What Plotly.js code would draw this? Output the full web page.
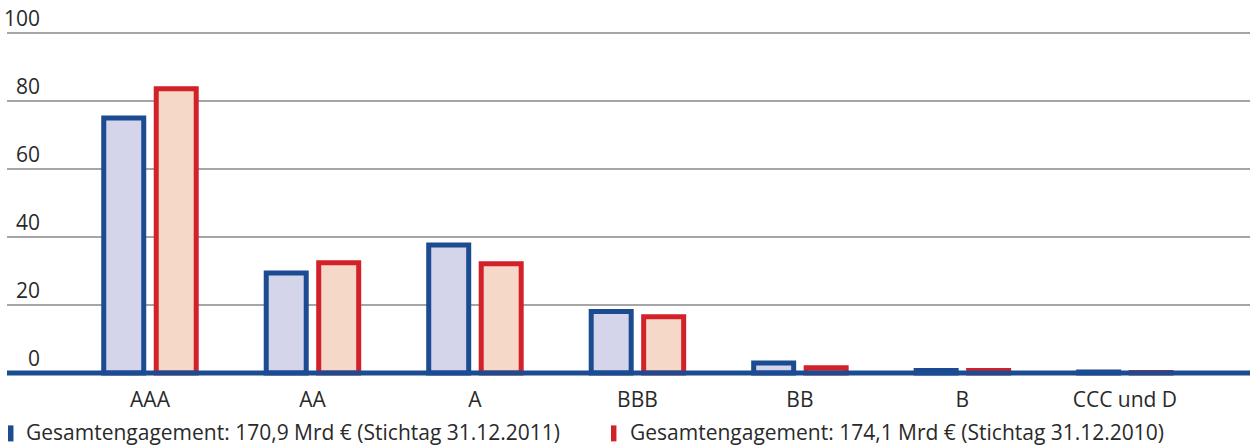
<!DOCTYPE html>
<html>
<head>
<meta charset="utf-8">
<script src="https://cdn.plot.ly/plotly-3.0.1.min.js"></script>
<style>html,body{margin:0;padding:0;background:#fff;}#chart{width:1251px;height:446px;}</style>
</head>
<body>
<div id="chart"></div>
<script>
const categories = ["AAA", "AA", "A", "BBB", "BB", "B", "CCC und D"];
const values2011 = [75.0, 29.4, 37.6, 18.1, 2.9, 0.7, 0.3];
const values2010 = [83.6, 32.4, 32.1, 16.5, 1.5, 0.7, 0.15];
const seriesNames = [
  "Gesamtengagement: 170,9 Mrd € (Stichtag 31.12.2011)",
  "Gesamtengagement: 174,1 Mrd € (Stichtag 31.12.2010)"
];
const yTicks = [0, 20, 40, 60, 80, 100];

const BLUE = "#1b4b91", BLUE_FILL = "#d4d5ea";
const RED = "#d3212a", RED_FILL = "#f5d8c8";
const FONT = "Open Sans, sans-serif";
const TXT = "#2a2a2a";
const FS = 21;

const traces = [
  {type: "bar", x: categories, y: values2011, name: seriesNames[0],
   marker: {color: BLUE_FILL, line: {color: BLUE, width: 5}}, hoverinfo: "none"},
  {type: "bar", x: categories, y: values2010, name: seriesNames[1],
   marker: {color: RED_FILL, line: {color: RED, width: 5}}, hoverinfo: "none"}
];

const annotations = yTicks.map(v => ({
  xref: "paper", yref: "y", x: 0.0282, y: v, xanchor: "right", yanchor: "bottom",
  text: String(v), showarrow: false, yshift: -1,
  font: {family: FONT, size: FS, color: TXT}
}));
const legendX = [0.0138, 0.4996];
seriesNames.forEach((n, i) => {
  annotations.push({
    xref: "paper", yref: "paper", x: legendX[i], y: -0.153, xanchor: "left", yanchor: "middle",
    text: n, showarrow: false, font: {family: FONT, size: FS, color: TXT}
  });
});

const shapes = [
  {type: "line", xref: "paper", yref: "y", x0: 0, x1: 1, y0: 0, y1: 0,
   line: {color: BLUE, width: 5}, layer: "above"},
  {type: "rect", xref: "paper", yref: "paper", x0: 0.0008, x1: 0.0052, y0: -0.1335, y1: -0.1786,
   fillcolor: BLUE, line: {width: 0}},
  {type: "rect", xref: "paper", yref: "paper", x0: 0.4859, x1: 0.4903, y0: -0.1335, y1: -0.1786,
   fillcolor: RED, line: {width: 0}}
];

const layout = {
  width: 1251, height: 446,
  margin: {l: 7, r: 1, t: 22.5, b: 68.4},
  paper_bgcolor: "#fff", plot_bgcolor: "#fff",
  barmode: "group", bargap: 0.354, bargroupgap: 0.238,
  showlegend: false,
  font: {family: FONT, color: TXT},
  xaxis: {type: "category", range: [-0.88, 6.77], showgrid: false, zeroline: false,
    showline: false, ticks: "", ticklabelstandoff: 7,
    tickfont: {family: FONT, size: FS, color: TXT}, fixedrange: true},
  yaxis: {range: [-1.5, 102.94], tickvals: yTicks, showticklabels: false, showgrid: true,
    gridcolor: "#a6a6a6", gridwidth: 1.5, zeroline: false, showline: false, fixedrange: true},
  annotations: annotations,
  shapes: shapes
};

Plotly.newPlot("chart", traces, layout, {displayModeBar: false, staticPlot: true});
</script>
</body>
</html>
